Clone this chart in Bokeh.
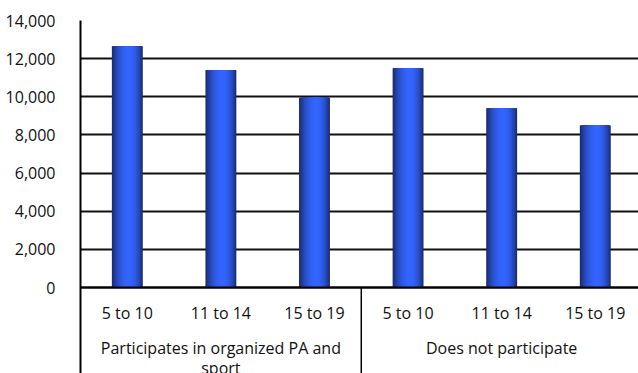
import textwrap

from bokeh.core.properties import value
from bokeh.embed import file_html
from bokeh.models import FixedTicker, NumeralTickFormatter, Range1d
from bokeh.plotting import figure
from bokeh.resources import INLINE

# Data
age_groups = ["5 to 10", "11 to 14", "15 to 19"]
groups = ["Participates in organized PA and sport", "Does not participate"]
participates = [12650, 11400, 9950]
not_participate = [11500, 9400, 8500]
y_ticks = [0, 2000, 4000, 6000, 8000, 10000, 12000, 14000]

series = [participates, not_participate]
values = [v for s in series for v in s]
labels = [a for _ in groups for a in age_groups]
centers = [i + 0.5 for i in range(len(values))]

FONT = value("Open Sans")
TEXT_COLOR = "#111111"

# Region below zero holds the two-level category labels
y_bottom = -4509
y_cat = -1311
y_group = -3146
group_line_step = 1049

p = figure(
    width=638, height=373,
    x_range=Range1d(0, 5.962), y_range=Range1d(y_bottom, 14000),
    output_backend="svg", toolbar_location=None,
    min_border_left=80, min_border_top=20, min_border_bottom=0, min_border_right=0,
)
p.xaxis.visible = False
p.outline_line_color = None
p.xgrid.visible = False
p.background_fill_color = "white"
p.border_fill_color = "white"

p.yaxis.ticker = FixedTicker(ticks=y_ticks)
p.ygrid.ticker = FixedTicker(ticks=y_ticks)
p.yaxis.formatter = NumeralTickFormatter(format="0,0")
p.yaxis.major_tick_line_color = None
p.yaxis.minor_tick_line_color = None
p.yaxis.axis_line_color = "#000000"
p.yaxis.axis_line_width = 2
p.yaxis.major_label_standoff = 19
p.yaxis.major_label_text_font = "Open Sans"
p.yaxis.major_label_text_font_size = "16px"
p.yaxis.major_label_text_color = TEXT_COLOR
p.ygrid.grid_line_color = "#111111"
p.ygrid.grid_line_width = 2

# Cylinder-like bars: stacked layers, each narrower and brighter,
# converging on a highlight just right of the bar centre
bar_width = 0.33
n_layers = 24
peak = 0.56
dark = (26, 42, 110)
bright = (52, 102, 255)
for k in range(n_layers):
    f = k / n_layers
    m = (1 - (1 - f) ** 2) ** 0.9
    col = tuple(int(dark[j] + (bright[j] - dark[j]) * m) for j in range(3))
    color = "#%02x%02x%02x" % col
    left = peak * f
    right = 1 - (1 - peak) * f
    w = bar_width * max(right - left, 0.02)
    off = -bar_width / 2 + bar_width * (left + right) / 2
    p.vbar(x=[c + off for c in centers], top=values, bottom=0,
           width=w, fill_color=color, line_color=None)

# Zero baseline on top of bars
p.segment(x0=[0], y0=[0], x1=[6], y1=[0], line_color="#000000", line_width=2)

# Category labels
p.text(x=centers, y=[y_cat] * len(centers), text=labels,
       text_align="center", text_baseline="middle",
       text_font=FONT, text_font_size="16px", text_color=TEXT_COLOR)

# Group labels (wrapped) and separators
n_age = len(age_groups)
gx, gy, gt = [], [], []
for gi, name in enumerate(groups):
    for li, line in enumerate(textwrap.wrap(name, 32)):
        gx.append(gi * n_age + n_age / 2)
        gy.append(y_group - li * group_line_step)
        gt.append(line)
p.text(x=gx, y=gy, text=gt, text_align="center", text_baseline="middle",
       text_font=FONT, text_font_size="16px", text_color=TEXT_COLOR)

sep_x = [gi * n_age for gi in range(1, len(groups))]
p.segment(x0=sep_x, y0=[0] * len(sep_x), x1=sep_x, y1=[y_bottom] * len(sep_x),
          line_color="#000000", line_width=1.5)

open("out.html", "w").write(file_html(p, INLINE))
